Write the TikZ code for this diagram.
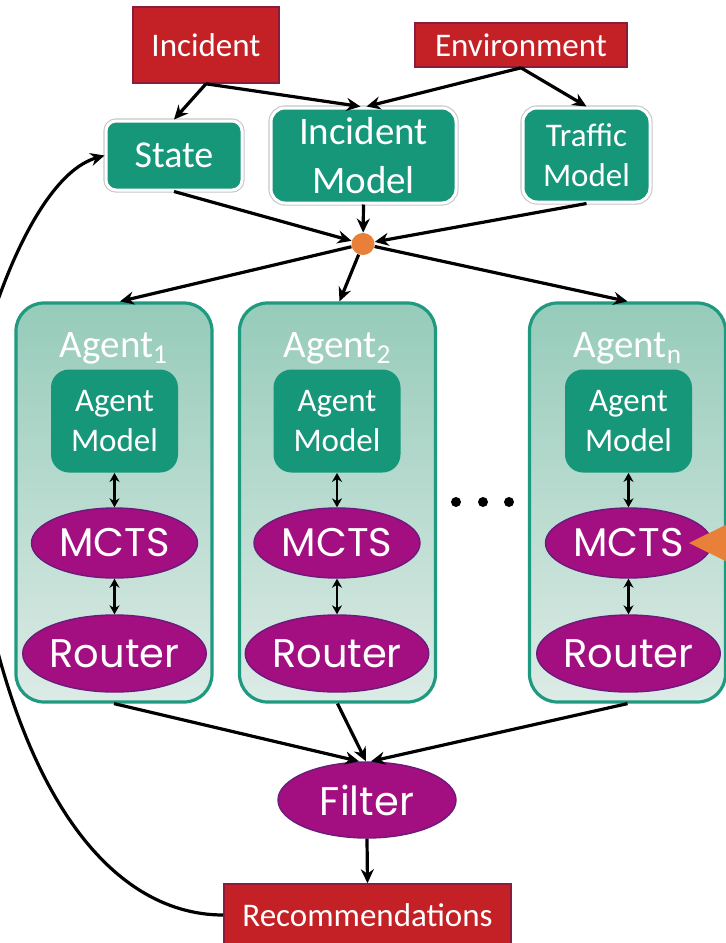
\documentclass[tikz,border=0pt]{standalone}
\usepackage{fontspec}
\setmainfont{Carlito}
\newfontfamily\geofont{Poppins}
\usetikzlibrary{arrows.meta,shapes.geometric}
\definecolor{cred}{HTML}{C42126}
\definecolor{credb}{HTML}{8C1C3C}
\definecolor{cteal}{HTML}{16977A}
\definecolor{cpanelb}{HTML}{1F9A80}
\definecolor{cpaneltop}{HTML}{96CBBA}
\definecolor{cpanelbot}{HTML}{DCEBE6}
\definecolor{cpurple}{HTML}{A30E80}
\definecolor{cpurpleb}{HTML}{6B1B7B}
\definecolor{corange}{HTML}{E8803A}
\tikzset{
  redbox/.style={rectangle, fill=cred, draw=credb, line width=0.8pt, text=white, inner sep=0pt,
    font=\fontsize{16.5}{20}\selectfont},
  tealbox/.style={rectangle, rounded corners=7pt, fill=cteal, text=white, inner sep=0pt, align=center,
    preaction={draw=black!22, line width=2.6pt}, draw=white, line width=1.5pt},
  innerbox/.style={rectangle, rounded corners=9pt, fill=cteal, text=white, inner sep=0pt, align=center,
    font=\fontsize{16.5}{20}\selectfont},
  panel/.style={rectangle, rounded corners=14pt, draw=cpanelb, line width=1.6pt,
    top color=cpaneltop, bottom color=cpanelbot, minimum width=98pt, minimum height=199.5pt, inner sep=0pt},
  purp/.style={ellipse, fill=cpurple, draw=cpurpleb, line width=0.7pt, text=white, inner sep=0pt,
    font=\geofont\fontsize{20}{24}\selectfont},
  agentlabel/.style={text=white, inner sep=0pt, anchor=base, font=\fontsize{19.5}{22}\selectfont},
  arr/.style={-{Stealth[length=7pt,width=6.5pt]}, line width=1.6pt, black},
  darr/.style={{Stealth[length=4.5pt,width=5pt]}-{Stealth[length=4.5pt,width=5pt]}, line width=1.1pt, black},
  blackdot/.style={circle, fill=black, inner sep=0pt, minimum size=5pt},
}
\begin{document}
\begin{tikzpicture}[x=0.5pt,y=-0.5pt]
\useasboundingbox (0,0) rectangle (726,943);
\clip (0,0) rectangle (726,943);
\fill[white] (0,0) rectangle (726,943);

% top row
\node[redbox, minimum width=73pt, minimum height=38pt] (inc) at (206,45) {Incident};
\node[redbox, minimum width=106pt, minimum height=22pt] (env) at (521,45) {Environment};

\node[tealbox, rounded corners=5pt, minimum width=68pt, minimum height=34.5pt,
  font=\fontsize{19}{22}\selectfont] (state) at (174,155.5) {State};
\node[tealbox, minimum width=92.5pt, minimum height=47.5pt,
  font=\fontsize{19.5}{24.5}\selectfont] (incm) at (363.5,155.5) {Incident\\Model};
\node[tealbox, minimum width=63.5pt, minimum height=47pt,
  font=\fontsize{16.5}{20}\selectfont] (traf) at (586.5,155) {Traffic\\Model};

\node[ellipse, fill=corange, minimum width=11.5pt, minimum height=11pt, inner sep=0pt] (dot) at (363,244) {};

% panels
\node[panel] (a1) at (114,502.5) {};
\node[panel] (a2) at (337.5,502.5) {};
\node[panel] (an) at (627.5,502.5) {};

\node[agentlabel] (l1) at (114,357) {Agent\textsubscript{1}};
\node[agentlabel] (l2) at (337.5,357) {Agent\textsubscript{2}};
\node[agentlabel] (ln) at (628,357) {Agent\textsubscript{n}};

\foreach \n/\x in {1/114.5, 2/337, n/628.5}{
  \node[innerbox, minimum width=63.5pt, minimum height=51.5pt] (am\n) at (\x,421) {Agent\\Model};
  \node[purp, minimum width=83pt, minimum height=35pt] (mc\n) at (\x,543) {MCTS};
  \node[purp, minimum width=89.5pt, minimum height=38.5pt] (rt\n) at (\x,653.5) {Router};
  \draw[darr] (am\n.south) -- (mc\n.north);
  \draw[darr] (mc\n.south) -- (rt\n.north);
}

% dots
\node[blackdot] (d1) at (456,502) {};
\node[blackdot] (d2) at (483,502) {};
\node[blackdot] (d3) at (509,502) {};

% orange triangle
\fill[corange] (689,543) -- (770,503) -- (770,583) -- cycle;

% filter and recommendations
\node[purp, minimum width=89pt, minimum height=38pt] (filter) at (367,800) {Filter};
\node[redbox, minimum width=143.5pt, minimum height=31pt] (rec) at (367.5,915) {Recommendations};

% arrows top
\draw[arr] (inc.south) -- (state.north);
\draw[arr] (inc.south) -- ([xshift=-1.5pt]incm.north);
\draw[arr] (env.south) -- ([xshift=1.5pt]incm.north);
\draw[arr] (env.south) -- (traf.north);
\draw[arr] (state.south) -- (dot);
\draw[arr] (incm.south) -- (dot);
\draw[arr] (traf.south) -- (dot);
\draw[arr] (dot) -- ([xshift=3pt]a1.north);
\draw[arr] (dot) -- ([xshift=1pt]a2.north);
\draw[arr] (dot) -- (an.north);

% arrows bottom
\draw[arr] (a1.south) -- ([xshift=-4pt]filter.north);
\draw[arr] (a2.south) -- ([xshift=-0.5pt]filter.north);
\draw[arr] (an.south) -- ([xshift=2pt]filter.north);
\draw[arr] (filter.south) -- (rec.north);

% feedback
\draw[arr] (rec.west) .. controls (110,915) and (0,790) .. (-35,470)
  .. controls (-42,400) and (20,180) .. (state.west);
\end{tikzpicture}
\end{document}
